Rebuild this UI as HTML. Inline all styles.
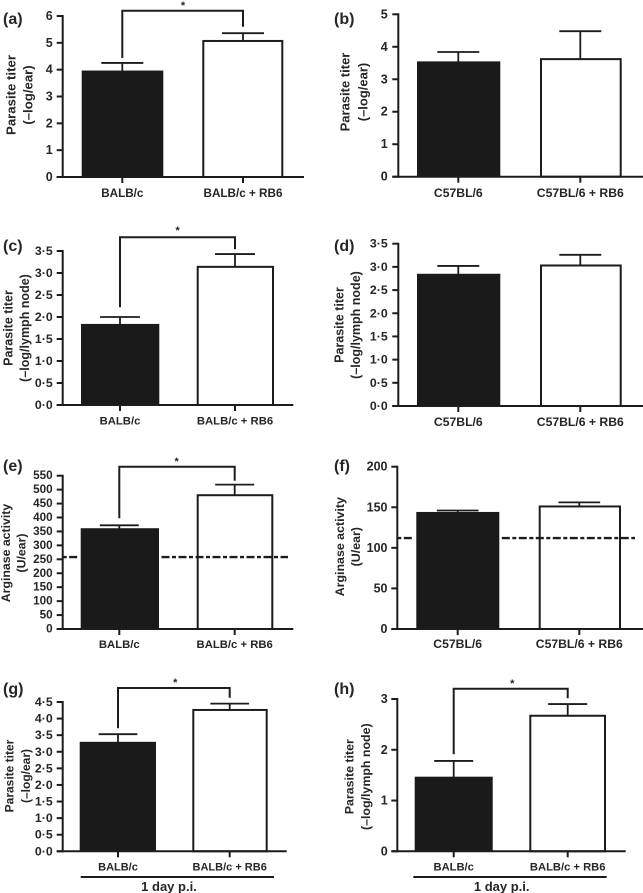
<!DOCTYPE html>
<html lang="en">
<head>
<meta charset="utf-8">
<title>Parasite titer and arginase activity panels</title>
<style>
html,body{margin:0;padding:0;background:#fff;width:643px;height:893px;overflow:hidden}
svg{display:block;filter:blur(.3px)}
text{font-family:"Liberation Sans",Arial,sans-serif;fill:#262626}
</style>
</head>
<body>
<svg id="figure" xmlns="http://www.w3.org/2000/svg" width="643" height="893" viewBox="0 0 643 893"></svg>
<script>
// Panel data: categories, means, upper error values, tick labels
const aCategories = ['BALB/c', 'BALB/c + RB6'];
const aMeans = [3.93, 5.07];
const aErrors = [4.25, 5.36];
const aTicks = ['0', '1', '2', '3', '4', '5', '6'];

const bCategories = ['C57BL/6', 'C57BL/6 + RB6'];
const bMeans = [3.52, 3.62];
const bErrors = [3.84, 4.48];
const bTicks = ['0', '1', '2', '3', '4', '5'];

const cCategories = ['BALB/c', 'BALB/c + RB6'];
const cMeans = [1.82, 3.14];
const cErrors = [2.0, 3.43];
const cTicks = ['0·0', '0·5', '1·0', '1·5', '2·0', '2·5', '3·0', '3·5'];

const dCategories = ['C57BL/6', 'C57BL/6 + RB6'];
const dMeans = [2.83, 3.03];
const dErrors = [3.02, 3.26];
const dTicks = ['0·0', '0·5', '1·0', '1·5', '2·0', '2·5', '3·0', '3·5'];

const eCategories = ['BALB/c', 'BALB/c + RB6'];
const eMeans = [358, 480];
const eErrors = [372, 518];
const eTicks = ['0', '50', '100', '150', '200', '250', '300', '350', '400', '450', '500', '550'];
const eBaseline = [258];

const fCategories = ['C57BL/6', 'C57BL/6 + RB6'];
const fMeans = [143, 151];
const fErrors = [146, 156];
const fTicks = ['0', '50', '100', '150', '200'];
const fBaseline = [112];

const gCategories = ['BALB/c', 'BALB/c + RB6'];
const gMeans = [3.27, 4.26];
const gErrors = [3.53, 4.45];
const gTicks = ['0·0', '0·5', '1·0', '1·5', '2·0', '2·5', '3·0', '3·5', '4·0', '4·5'];

const hCategories = ['BALB/c', 'BALB/c + RB6'];
const hMeans = [1.45, 2.67];
const hErrors = [1.78, 2.9];
const hTicks = ['0', '1', '2', '3'];

const NS = 'http://www.w3.org/2000/svg';
const INK = '#1c1c1c';
const root = document.getElementById('figure');

function mk(tag, parent, attrs, content) {
  const node = document.createElementNS(NS, tag);
  for (const k in attrs) node.setAttribute(k, attrs[k]);
  if (content !== undefined) node.textContent = content;
  parent.appendChild(node);
  return node;
}
function seg(parent, x1, y1, x2, y2, w) {
  return mk('line', parent, {x1: x1, y1: y1, x2: x2, y2: y2, stroke: INK, 'stroke-width': w || 2});
}
function num(label) { return parseFloat(label.replace('·', '.')); }

function drawPanel(p) {
  const g = mk('g', root, {});
  
  

  const maxV = num(p.ticks[p.ticks.length - 1]);
  const yScale = v => p.y0 - (v / maxV) * (p.y0 - p.yTop);

  // panel letter
  const letter = mk('text', g, {x: p.letter[0], y: p.letter[1], 'font-size': 16, 'font-weight': 700}, '(' + p.id + ')');
  
  

  // y title
  p.title.forEach((line, i) => {
    const tx = p.titleX[i];
    const t = mk('text', g, {x: tx, y: p.titleY, 'font-size': p.titleSize, 'font-weight': 700, 'text-anchor': 'middle', 'dominant-baseline': 'central', transform: 'rotate(-90 ' + tx + ' ' + p.titleY + ')'}, line);
    
    
  });

  // bars
  const means = p.means, errs = p.errors;
  means.forEach((m, i) => {
    const [l, r] = p.bars[i];
    const cx = p.cx[i];
    const top = yScale(m);
    const errLine = seg(g, cx, top, cx, yScale(errs[i]), 1.8);
    
    
    const cap = seg(g, cx - p.capW / 2, yScale(errs[i]), cx + p.capW / 2, yScale(errs[i]), 1.8);
    
    
    const bar = i === 0
      ? mk('rect', g, {x: l, y: top - 1, width: r - l, height: p.y0 - top + 1, fill: '#1a1a1a'})
      : mk('rect', g, {x: l + 1, y: top, width: r - l - 2, height: p.y0 - top, fill: '#fff', stroke: INK, 'stroke-width': 2});
    
    
  });

  // dashed baseline, broken around the black bar
  if (p.baseline) {
    const by = yScale(p.baseline[0]);
    const d1 = mk('line', g, {x1: p.xAxisX, y1: by, x2: p.bars[0][0] - 2, y2: by, stroke: INK, 'stroke-width': 2.4, 'stroke-dasharray': '4 2.5 8 2.5'});
    
    
    const d2 = mk('line', g, {x1: p.bars[0][1] + 2.5, y1: by, x2: p.dashEnd, y2: by, stroke: INK, 'stroke-width': 2.4, 'stroke-dasharray': '8 2.5 4 2.5'});
    
    
  }

  // axes
  const yAxis = seg(g, p.xAxisX, p.yTop - 1, p.xAxisX, p.y0 + 1, 2);
  
  
  const xAxis = seg(g, p.xAxisX - 6, p.y0, p.xEnd, p.y0, 2);
  
  

  p.ticks.forEach(label => {
    const ty = yScale(num(label));
    const tick = seg(g, p.xAxisX - 6, ty, p.xAxisX, ty, 2);
    
    
    const t = mk('text', g, {x: p.tickRight, y: ty, 'font-size': p.tickSize, 'font-weight': 700, 'text-anchor': 'end', 'dominant-baseline': 'central'}, label);
    
    
  });

  p.categories.forEach((cat, i) => {
    const tick = seg(g, p.cx[i], p.y0, p.cx[i], p.y0 + 6, 2);
    
    
    const t = mk('text', g, {x: p.cx[i], y: p.catY, 'font-size': p.catSize, 'font-weight': 700, 'text-anchor': 'middle'}, cat);
    
    
  });

  // significance bracket
  if (p.bracket) {
    const b = p.bracket;
    const path = mk('path', g, {d: 'M' + p.cx[0] + ' ' + b.left + 'V' + b.top + 'H' + p.cx[1] + 'V' + b.right, fill: 'none', stroke: INK, 'stroke-width': 2});
    
    
    const star = mk('text', g, {x: b.starX, y: b.starY, 'font-size': 11, 'font-weight': 700, 'text-anchor': 'middle'}, '*');
    
    
  }

  // time point underline
  if (p.footer) {
    const u = seg(g, p.footer.x1, p.footer.y, p.footer.x2, p.footer.y, 2);
    
    
    const t = mk('text', g, {x: p.footer.cx, y: p.footer.y + 14, 'font-size': 13, 'font-weight': 700, 'text-anchor': 'middle'}, '1 day p.i.');
    
    
  }
}

drawPanel({id: 'a', categories: aCategories, means: aMeans, errors: aErrors, ticks: aTicks,
  y0: 177, yTop: 16, xAxisX: 62.7, xEnd: 304, tickRight: 52.7, cx: [122.3, 243], bars: [[81.7, 163.3], [202.3, 283.3]], capW: 42,
  tickSize: 12.5, catSize: 11.7, titleSize: 13.2,
  letter: [3, 24], title: ['Parasite titer', '(–log/ear)'], titleX: [11, 28], titleY: 95, catY: 197,
  bracket: {top: 10.7, left: 58, right: 26.7, starX: 183, starY: 9}});

drawPanel({id: 'b', categories: bCategories, means: bMeans, errors: bErrors, ticks: bTicks,
  y0: 176.7, yTop: 14.3, xAxisX: 398.3, xEnd: 643, tickRight: 387.7, cx: [458.3, 580.3], bars: [[417, 500.3], [540, 621.7]], capW: 42,
  tickSize: 12.5, catSize: 12.2, titleSize: 13,
  letter: [334, 24], title: ['Parasite titer', '(–log/ear)'], titleX: [345, 363], titleY: 92, catY: 197});

drawPanel({id: 'c', categories: cCategories, means: cMeans, errors: cErrors, ticks: cTicks,
  y0: 405, yTop: 251, xAxisX: 62.7, xEnd: 293.3, tickRight: 52.7, cx: [120, 235], bars: [[81, 159.3], [196.7, 274]], capW: 40,
  tickSize: 12.3, catSize: 11.3, titleSize: 12.5,
  letter: [3, 251], title: ['Parasite titer', '(–log/lymph node)'], titleX: [8.5, 25], titleY: 328, catY: 424.5,
  bracket: {top: 237.3, left: 307.3, right: 249.3, starX: 177.7, starY: 234}});

drawPanel({id: 'd', categories: dCategories, means: dMeans, errors: dErrors, ticks: dTicks,
  y0: 406, yTop: 243.7, xAxisX: 398.3, xEnd: 643, tickRight: 387.7, cx: [458.3, 580.3], bars: [[417, 500.3], [540, 621.7]], capW: 42,
  tickSize: 12.3, catSize: 12.2, titleSize: 12.5,
  letter: [334, 251], title: ['Parasite titer', '(–log/lymph node)'], titleX: [339.3, 356], titleY: 325, catY: 426});

drawPanel({id: 'e', categories: eCategories, means: eMeans, errors: eErrors, ticks: eTicks, baseline: eBaseline, dashEnd: 288,
  y0: 629, yTop: 475.7, xAxisX: 62.7, xEnd: 293.3, tickRight: 52.7, cx: [119.3, 234.7], bars: [[80.7, 159], [196.7, 273.3]], capW: 39,
  tickSize: 11.7, catSize: 11.3, titleSize: 12.3,
  letter: [3, 471], title: ['Arginase activity', '(U/ear)'], titleX: [6, 21.7], titleY: 553, catY: 648,
  bracket: {top: 466.7, left: 518.3, right: 480.7, starX: 176.7, starY: 465}});

drawPanel({id: 'f', categories: fCategories, means: fMeans, errors: fErrors, ticks: fTicks, baseline: fBaseline, dashEnd: 635,
  y0: 629, yTop: 466.7, xAxisX: 397.3, xEnd: 643, tickRight: 387.5, cx: [457.7, 579.3], bars: [[416.3, 499.3], [538.7, 621]], capW: 41.7,
  tickSize: 12.5, catSize: 12.2, titleSize: 12.4,
  letter: [334, 471], title: ['Arginase activity', '(U/ear)'], titleX: [340, 356], titleY: 546.7, catY: 648});

drawPanel({id: 'g', categories: gCategories, means: gMeans, errors: gErrors, ticks: gTicks,
  y0: 851.3, yTop: 702, xAxisX: 62.7, xEnd: 286.7, tickRight: 52.7, cx: [118, 229.7], bars: [[79.7, 156], [192.3, 267.7]], capW: 38.7,
  tickSize: 12.3, catSize: 11, titleSize: 12,
  letter: [3, 694], title: ['Parasite titer', '(–log/ear)'], titleX: [9.3, 26], titleY: 776, catY: 870.5,
  bracket: {top: 688, left: 728.3, right: 697.7, starX: 175.3, starY: 686},
  footer: {x1: 80.7, x2: 274, y: 877, cx: 169}});

drawPanel({id: 'h', categories: hCategories, means: hMeans, errors: hErrors, ticks: hTicks,
  y0: 851.3, yTop: 699, xAxisX: 397.3, xEnd: 625.7, tickRight: 387.7, cx: [453.7, 567.7], bars: [[414.7, 492.7], [529.3, 606]], capW: 39,
  tickSize: 12.5, catSize: 11.2, titleSize: 12.4,
  letter: [334, 694], title: ['Parasite titer', '(–log/lymph node)'], titleX: [349.3, 366], titleY: 776.7, catY: 870.5,
  bracket: {top: 688.7, left: 754.3, right: 698.3, starX: 512.3, starY: 687},
  footer: {x1: 413.3, x2: 606.7, y: 877, cx: 501.7}});
</script>
</body>
</html>
